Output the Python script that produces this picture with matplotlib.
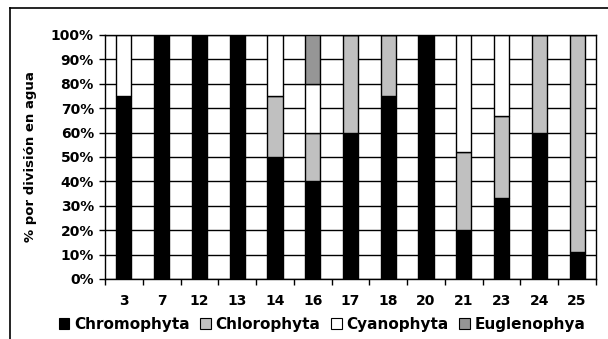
import matplotlib
matplotlib.use("Agg")
import matplotlib.pyplot as plt
import numpy as np
from matplotlib.lines import Line2D
from matplotlib.patches import Patch

categories = ["3", "7", "12", "13", "14", "16", "17", "18", "20", "21", "23", "24", "25"]
chromophyta = [75, 100, 100, 100, 50, 40, 60, 75, 100, 20, 33.3, 60, 11]
chlorophyta = [0, 0, 0, 0, 25, 20, 40, 25, 0, 32, 33.4, 40, 89]
cyanophyta = [25, 0, 0, 0, 25, 20, 0, 0, 0, 48, 33.3, 0, 0]
euglenophya = [0, 0, 0, 0, 0, 20, 0, 0, 0, 0, 0, 0, 0]
series_names = ["Chromophyta", "Chlorophyta", "Cyanophyta", "Euglenophya"]
colors = ["#000000", "#C0C0C0", "#FFFFFF", "#969696"]
ytick_vals = list(range(0, 101, 10))

W, H = 608, 339
fig = plt.figure(figsize=(W / 100, H / 100), dpi=100)
ax = fig.add_axes([105 / W, (H - 279) / H, (596 - 105) / W, (279 - 35) / H])

x = np.arange(len(categories))
bottom = np.zeros(len(categories))
series = [chromophyta, chlorophyta, cyanophyta, euglenophya]
for vals, col, name in zip(series, colors, series_names):
    v = np.array(vals, dtype=float)
    ax.bar(x, v, width=0.4, bottom=bottom, color=col, edgecolor="black",
           linewidth=1.0, zorder=3, label=name)
    bottom += v

ax.set_xlim(-0.5, len(categories) - 0.5)
ax.set_ylim(0, 100)
ax.set_yticks(ytick_vals)
ax.set_yticklabels([f"{v}%" for v in ytick_vals], fontsize=10, fontweight="bold")
ax.set_xticks(x)
ax.set_xticklabels(categories, fontsize=10, fontweight="bold")
ax.set_xticks(np.arange(-0.5, len(categories), 1.0), minor=True)
ax.tick_params(axis="x", which="major", length=0, pad=11)
ax.tick_params(axis="x", which="minor", length=4, width=1, direction="out", color="black")
ax.tick_params(axis="y", length=4, width=1, direction="out", pad=4)
ax.yaxis.grid(True, color="black", linewidth=1.0, zorder=0)
ax.set_axisbelow(True)
for s in ax.spines.values():
    s.set_color("black")
    s.set_linewidth(1.0)

ax.set_ylabel("% por división en agua", fontsize=9.5, fontweight="bold", labelpad=10)

handles = [Patch(facecolor=c, edgecolor="black", linewidth=0.8) for c in colors]
fig.legend(handles, series_names, loc="center", bbox_to_anchor=(322 / W, 15 / H),
           ncol=4, frameon=False, handlelength=0.7, handleheight=0.7,
           handletextpad=0.3, columnspacing=0.7,
           prop={"size": 11, "weight": "bold"})

fig.add_artist(Line2D([10 / W, 10 / W], [0, 1 - 7.5 / H], color="black", linewidth=1.2))
fig.add_artist(Line2D([10 / W, 1], [1 - 7.5 / H, 1 - 7.5 / H], color="black", linewidth=1.2))

fig.savefig("out.png", dpi=100)
